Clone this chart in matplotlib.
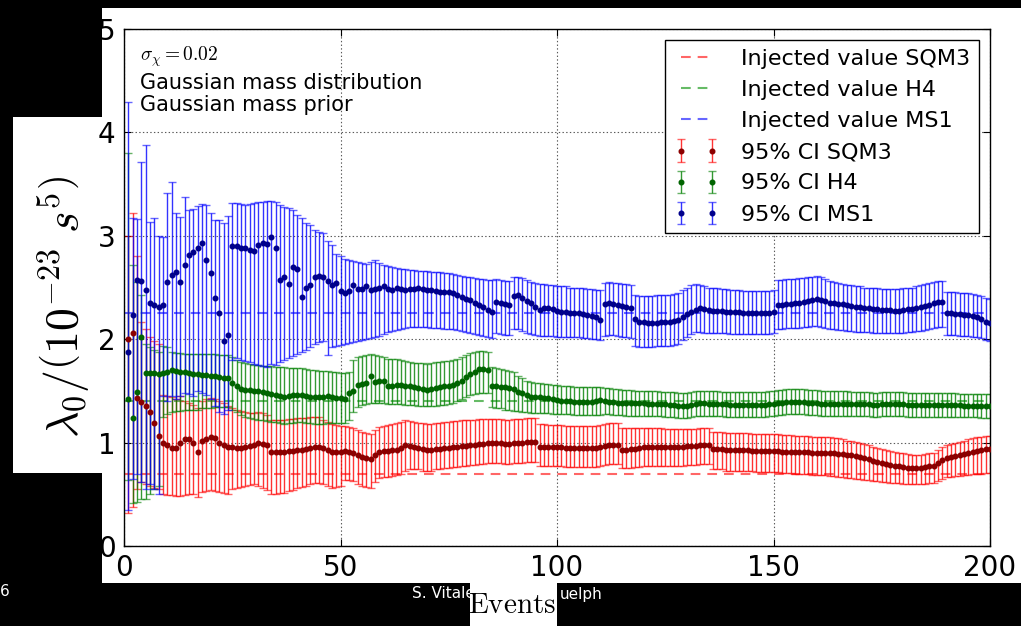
import numpy as np
import matplotlib
matplotlib.use("Agg")
import matplotlib.pyplot as plt
from matplotlib.patches import Rectangle

plt.rcParams['mathtext.fontset'] = 'cm'
plt.rcParams['lines.scale_dashes'] = False

# ---------------- data ----------------
injected_sqm3 = 0.70
injected_h4 = 1.40
injected_ms1 = 2.25

ms1_mean = [
    1.88, 2.23, 2.57, 2.56, 2.48, 2.35, 2.33, 2.31, 2.33, 2.55,
    2.62, 2.65, 2.55, 2.72, 2.81, 2.84, 2.88, 2.93, 2.77, 2.64,
    2.40, 2.25, 1.98, 2.04, 2.90, 2.90, 2.88, 2.88, 2.86, 2.85,
    2.91, 2.93, 2.92, 2.99, 2.88, 2.57, 2.60, 2.53, 2.70, 2.68,
    2.41, 2.50, 2.52, 2.60, 2.61, 2.60, 2.56, 2.52, 2.54, 2.47,
    2.45, 2.47, 2.52, 2.49, 2.49, 2.51, 2.48, 2.49, 2.50, 2.51,
    2.49, 2.48, 2.50, 2.49, 2.48, 2.49, 2.49, 2.50, 2.49, 2.48,
    2.48, 2.47, 2.46, 2.46, 2.46, 2.45, 2.43, 2.41, 2.39, 2.38,
    2.35, 2.33, 2.31, 2.28, 2.26, 2.36, 2.35, 2.34, 2.33, 2.42,
    2.43, 2.40, 2.37, 2.35, 2.31, 2.28, 2.30, 2.30, 2.29, 2.27,
    2.26, 2.26, 2.25, 2.25, 2.25, 2.24, 2.23, 2.22, 2.21, 2.19,
    2.34, 2.35, 2.34, 2.33, 2.32, 2.31, 2.30, 2.20, 2.17, 2.17,
    2.16, 2.16, 2.16, 2.17, 2.17, 2.17, 2.18, 2.19, 2.21, 2.24,
    2.26, 2.28, 2.30, 2.29, 2.28, 2.27, 2.27, 2.27, 2.26, 2.26,
    2.26, 2.26, 2.25, 2.25, 2.25, 2.25, 2.25, 2.25, 2.25, 2.26,
    2.33, 2.33, 2.34, 2.34, 2.35, 2.35, 2.36, 2.37, 2.38, 2.39,
    2.38, 2.37, 2.35, 2.35, 2.34, 2.34, 2.33, 2.32, 2.31, 2.31,
    2.30, 2.30, 2.29, 2.29, 2.28, 2.28, 2.28, 2.27, 2.27, 2.28,
    2.29, 2.29, 2.30, 2.31, 2.32, 2.33, 2.35, 2.36, 2.36, 2.25,
    2.25, 2.24, 2.24, 2.23, 2.23, 2.22, 2.21, 2.20, 2.17, 2.16,
]
ms1_upper = [
    4.29, 3.17, 3.16, 3.71, 3.88, 3.13, 3.17, 3.00, 2.99, 3.41,
    3.52, 3.22, 3.18, 3.38, 3.25, 3.26, 3.29, 3.31, 3.30, 3.22,
    3.15, 3.15, 3.12, 3.19, 3.32, 3.32, 3.31, 3.30, 3.31, 3.32,
    3.33, 3.33, 3.34, 3.34, 3.33, 3.30, 3.28, 3.27, 3.25, 3.20,
    3.17, 3.12, 3.10, 3.06, 3.04, 3.03, 2.95, 2.91, 2.82, 2.80,
    2.78, 2.77, 2.76, 2.75, 2.74, 2.73, 2.75, 2.77, 2.74, 2.72,
    2.71, 2.70, 2.69, 2.68, 2.68, 2.67, 2.67, 2.66, 2.66, 2.66,
    2.65, 2.65, 2.65, 2.64, 2.64, 2.63, 2.62, 2.61, 2.60, 2.60,
    2.59, 2.58, 2.58, 2.57, 2.57, 2.58, 2.57, 2.56, 2.56, 2.60,
    2.60, 2.59, 2.57, 2.55, 2.54, 2.53, 2.53, 2.52, 2.52, 2.51,
    2.51, 2.51, 2.50, 2.50, 2.50, 2.50, 2.49, 2.49, 2.48, 2.48,
    2.54, 2.55, 2.54, 2.54, 2.53, 2.53, 2.52, 2.43, 2.42, 2.42,
    2.42, 2.42, 2.43, 2.43, 2.43, 2.43, 2.44, 2.45, 2.48, 2.50,
    2.52, 2.53, 2.52, 2.51, 2.50, 2.50, 2.50, 2.49, 2.49, 2.48,
    2.48, 2.48, 2.47, 2.47, 2.47, 2.47, 2.47, 2.47, 2.47, 2.48,
    2.57, 2.57, 2.58, 2.58, 2.58, 2.59, 2.59, 2.60, 2.60, 2.61,
    2.60, 2.58, 2.56, 2.55, 2.54, 2.53, 2.52, 2.52, 2.51, 2.51,
    2.50, 2.50, 2.50, 2.50, 2.49, 2.49, 2.49, 2.49, 2.49, 2.50,
    2.50, 2.50, 2.51, 2.52, 2.53, 2.54, 2.55, 2.56, 2.56, 2.46,
    2.46, 2.46, 2.45, 2.45, 2.45, 2.44, 2.43, 2.42, 2.40, 2.39,
]
ms1_lower = [
    0.35, 0.65, 0.70, 0.62, 0.55, 0.60, 0.55, 0.50, 1.45, 1.40,
    1.45, 1.42, 1.45, 1.48, 1.47, 1.45, 1.50, 1.48, 1.46, 1.42,
    1.35, 1.30, 1.28, 1.32, 1.80, 1.82, 1.80, 1.79, 1.78, 1.76,
    1.75, 1.74, 1.73, 1.76, 1.75, 1.78, 1.80, 1.82, 1.84, 1.86,
    1.88, 1.90, 1.92, 1.95, 1.97, 1.98, 1.85, 1.92, 1.93, 1.94,
    1.95, 1.96, 1.97, 1.98, 1.99, 2.00, 2.01, 2.02, 2.03, 2.05,
    2.07, 2.08, 2.09, 2.10, 2.11, 2.12, 2.12, 2.12, 2.12, 2.12,
    2.11, 2.11, 2.11, 2.10, 2.10, 2.10, 2.09, 2.08, 2.07, 2.06,
    2.05, 2.04, 2.03, 2.02, 2.01, 2.06, 2.05, 2.04, 2.04, 2.10,
    2.10, 2.08, 2.06, 2.05, 2.04, 2.03, 2.03, 2.03, 2.03, 2.02,
    2.02, 2.02, 2.02, 2.02, 2.02, 2.01, 2.01, 2.00, 2.00, 1.99,
    2.03, 2.04, 2.04, 2.03, 2.02, 2.02, 2.01, 1.93, 1.92, 1.92,
    1.92, 1.92, 1.93, 1.93, 1.93, 1.93, 1.94, 1.95, 1.99, 2.02,
    2.05, 2.07, 2.07, 2.06, 2.06, 2.06, 2.06, 2.06, 2.06, 2.05,
    2.05, 2.05, 2.05, 2.05, 2.05, 2.05, 2.05, 2.05, 2.05, 2.06,
    2.10, 2.10, 2.11, 2.11, 2.11, 2.11, 2.12, 2.12, 2.13, 2.13,
    2.12, 2.11, 2.10, 2.10, 2.09, 2.09, 2.08, 2.08, 2.07, 2.07,
    2.07, 2.07, 2.06, 2.06, 2.06, 2.06, 2.06, 2.06, 2.06, 2.06,
    2.07, 2.07, 2.08, 2.08, 2.09, 2.10, 2.11, 2.12, 2.12, 2.04,
    2.04, 2.04, 2.03, 2.03, 2.03, 2.02, 2.02, 2.01, 1.99, 1.98,
]

h4_mean = [
    1.42, 1.24, 1.49, 2.02, 1.67, 1.67, 1.67, 1.66, 1.67, 1.68,
    1.70, 1.69, 1.68, 1.68, 1.67, 1.66, 1.66, 1.65, 1.65, 1.64,
    1.64, 1.63, 1.62, 1.62, 1.58, 1.55, 1.52, 1.51, 1.51, 1.50,
    1.50, 1.49, 1.48, 1.47, 1.46, 1.45, 1.44, 1.45, 1.46, 1.46,
    1.46, 1.45, 1.44, 1.44, 1.44, 1.44, 1.45, 1.44, 1.43, 1.43,
    1.42, 1.48, 1.50, 1.56, 1.57, 1.58, 1.64, 1.59, 1.60, 1.60,
    1.55, 1.55, 1.56, 1.56, 1.55, 1.55, 1.54, 1.53, 1.52, 1.51,
    1.52, 1.53, 1.54, 1.55, 1.55, 1.56, 1.58, 1.60, 1.63, 1.66,
    1.68, 1.71, 1.71, 1.70, 1.55, 1.55, 1.54, 1.54, 1.53, 1.52,
    1.49, 1.48, 1.46, 1.44, 1.44, 1.44, 1.43, 1.43, 1.42, 1.41,
    1.40, 1.40, 1.40, 1.39, 1.39, 1.39, 1.39, 1.39, 1.40, 1.41,
    1.40, 1.39, 1.39, 1.38, 1.38, 1.38, 1.38, 1.38, 1.38, 1.38,
    1.37, 1.37, 1.37, 1.37, 1.37, 1.36, 1.36, 1.35, 1.35, 1.35,
    1.36, 1.37, 1.38, 1.38, 1.37, 1.37, 1.37, 1.37, 1.37, 1.36,
    1.36, 1.36, 1.36, 1.36, 1.36, 1.36, 1.36, 1.36, 1.37, 1.37,
    1.38, 1.38, 1.39, 1.39, 1.39, 1.39, 1.39, 1.38, 1.38, 1.38,
    1.37, 1.37, 1.37, 1.37, 1.37, 1.37, 1.37, 1.37, 1.37, 1.37,
    1.37, 1.37, 1.36, 1.36, 1.37, 1.37, 1.37, 1.37, 1.37, 1.37,
    1.36, 1.36, 1.36, 1.36, 1.36, 1.36, 1.36, 1.36, 1.36, 1.36,
    1.36, 1.36, 1.36, 1.35, 1.35, 1.35, 1.35, 1.35, 1.35, 1.35,
]
h4_upper = [
    3.80, 2.72, 2.55, 2.43, 1.95, 1.92, 1.90, 1.88, 1.93, 1.92,
    1.88, 1.87, 1.87, 1.86, 1.86, 1.86, 1.86, 1.86, 1.86, 1.86,
    1.86, 1.85, 1.85, 1.85, 1.83, 1.80, 1.78, 1.77, 1.76, 1.75,
    1.75, 1.74, 1.74, 1.74, 1.73, 1.73, 1.73, 1.72, 1.72, 1.72,
    1.72, 1.71, 1.70, 1.70, 1.69, 1.69, 1.69, 1.68, 1.68, 1.67,
    1.67, 1.68, 1.80, 1.83, 1.84, 1.85, 1.86, 1.85, 1.84, 1.83,
    1.81, 1.81, 1.81, 1.80, 1.79, 1.78, 1.77, 1.77, 1.77, 1.76,
    1.77, 1.78, 1.78, 1.79, 1.79, 1.80, 1.81, 1.83, 1.85, 1.87,
    1.88, 1.89, 1.89, 1.88, 1.73, 1.72, 1.71, 1.70, 1.69, 1.68,
    1.64, 1.62, 1.60, 1.59, 1.58, 1.58, 1.57, 1.57, 1.56, 1.56,
    1.55, 1.55, 1.55, 1.54, 1.54, 1.54, 1.54, 1.54, 1.54, 1.54,
    1.53, 1.53, 1.52, 1.52, 1.51, 1.51, 1.51, 1.50, 1.50, 1.50,
    1.50, 1.50, 1.50, 1.49, 1.49, 1.49, 1.49, 1.48, 1.48, 1.48,
    1.49, 1.50, 1.50, 1.50, 1.50, 1.50, 1.50, 1.49, 1.49, 1.49,
    1.49, 1.49, 1.49, 1.49, 1.49, 1.49, 1.49, 1.49, 1.50, 1.50,
    1.51, 1.51, 1.52, 1.52, 1.52, 1.52, 1.52, 1.51, 1.51, 1.51,
    1.50, 1.50, 1.50, 1.50, 1.50, 1.50, 1.50, 1.49, 1.49, 1.49,
    1.49, 1.49, 1.48, 1.48, 1.49, 1.49, 1.49, 1.49, 1.49, 1.49,
    1.48, 1.48, 1.48, 1.48, 1.48, 1.48, 1.48, 1.48, 1.48, 1.48,
    1.48, 1.48, 1.47, 1.47, 1.47, 1.47, 1.47, 1.47, 1.47, 1.47,
]
h4_lower = [
    0.64, 0.42, 0.43, 0.45, 0.45, 0.50, 0.55, 0.58, 1.25, 1.28,
    1.30, 1.31, 1.31, 1.32, 1.32, 1.32, 1.32, 1.33, 1.33, 1.33,
    1.34, 1.34, 1.34, 1.34, 1.32, 1.30, 1.27, 1.25, 1.24, 1.23,
    1.22, 1.22, 1.21, 1.20, 1.20, 1.19, 1.18, 1.19, 1.19, 1.20,
    1.20, 1.19, 1.19, 1.18, 1.18, 1.18, 1.19, 1.19, 1.19, 1.19,
    1.19, 1.22, 1.30, 1.34, 1.36, 1.37, 1.38, 1.38, 1.38, 1.38,
    1.37, 1.37, 1.37, 1.37, 1.36, 1.36, 1.36, 1.35, 1.35, 1.35,
    1.35, 1.35, 1.36, 1.36, 1.37, 1.38, 1.40, 1.42, 1.44, 1.46,
    1.47, 1.48, 1.48, 1.48, 1.34, 1.33, 1.33, 1.32, 1.32, 1.31,
    1.31, 1.30, 1.30, 1.29, 1.29, 1.29, 1.29, 1.29, 1.28, 1.28,
    1.28, 1.28, 1.28, 1.27, 1.27, 1.27, 1.27, 1.27, 1.27, 1.27,
    1.28, 1.28, 1.27, 1.27, 1.27, 1.26, 1.26, 1.26, 1.26, 1.26,
    1.26, 1.26, 1.26, 1.26, 1.25, 1.25, 1.25, 1.24, 1.24, 1.24,
    1.25, 1.26, 1.26, 1.26, 1.26, 1.26, 1.26, 1.26, 1.25, 1.25,
    1.25, 1.25, 1.25, 1.25, 1.25, 1.25, 1.25, 1.25, 1.26, 1.26,
    1.27, 1.27, 1.28, 1.28, 1.28, 1.28, 1.28, 1.27, 1.27, 1.27,
    1.26, 1.26, 1.26, 1.26, 1.26, 1.26, 1.26, 1.26, 1.26, 1.26,
    1.26, 1.26, 1.25, 1.25, 1.26, 1.26, 1.26, 1.26, 1.26, 1.26,
    1.25, 1.25, 1.25, 1.25, 1.25, 1.25, 1.25, 1.25, 1.25, 1.25,
    1.25, 1.25, 1.25, 1.25, 1.25, 1.25, 1.25, 1.24, 1.24, 1.24,
]

sqm3_mean = [
    2.00, 2.06, 1.43, 1.39, 1.35, 1.30, 1.19, 1.06, 1.00, 0.98,
    0.95, 0.95, 1.00, 1.03, 1.03, 1.00, 0.91, 1.02, 1.03, 1.05,
    1.04, 1.00, 0.98, 0.96, 0.96, 0.95, 0.95, 0.96, 0.97, 0.98,
    1.00, 0.99, 0.98, 0.91, 0.91, 0.91, 0.91, 0.92, 0.92, 0.93,
    0.93, 0.94, 0.95, 0.96, 0.96, 0.95, 0.93, 0.91, 0.91, 0.91,
    0.92, 0.91, 0.90, 0.88, 0.86, 0.85, 0.84, 0.88, 0.91, 0.92,
    0.92, 0.93, 0.93, 0.95, 0.98, 0.97, 0.96, 0.95, 0.94, 0.93,
    0.93, 0.94, 0.94, 0.95, 0.95, 0.96, 0.96, 0.97, 0.97, 0.98,
    0.98, 0.99, 0.99, 1.00, 1.00, 1.00, 1.00, 0.99, 0.99, 1.00,
    1.00, 1.00, 1.01, 1.01, 1.01, 0.96, 0.96, 0.96, 0.96, 0.96,
    0.96, 0.95, 0.95, 0.95, 0.95, 0.95, 0.95, 0.95, 0.95, 0.96,
    0.97, 0.98, 0.98, 0.98, 0.93, 0.93, 0.94, 0.94, 0.95, 0.96,
    0.96, 0.96, 0.96, 0.96, 0.96, 0.96, 0.96, 0.96, 0.96, 0.97,
    0.97, 0.97, 0.98, 0.98, 0.98, 0.94, 0.94, 0.94, 0.93, 0.93,
    0.93, 0.93, 0.93, 0.93, 0.92, 0.92, 0.92, 0.92, 0.92, 0.92,
    0.92, 0.91, 0.91, 0.91, 0.91, 0.91, 0.91, 0.91, 0.90, 0.90,
    0.90, 0.90, 0.90, 0.90, 0.89, 0.89, 0.88, 0.88, 0.87, 0.86,
    0.85, 0.84, 0.82, 0.81, 0.80, 0.79, 0.78, 0.77, 0.77, 0.76,
    0.75, 0.75, 0.75, 0.75, 0.76, 0.77, 0.77, 0.80, 0.83, 0.85,
    0.86, 0.87, 0.88, 0.89, 0.90, 0.91, 0.92, 0.93, 0.94, 0.94,
]
sqm3_upper = [
    3.00, 3.22, 2.80, 2.17, 2.10, 2.02, 1.98, 1.95, 1.46, 1.45,
    1.44, 1.42, 1.45, 1.40, 1.38, 1.36, 1.33, 1.40, 1.42, 1.43,
    1.42, 1.40, 1.38, 1.35, 1.33, 1.32, 1.31, 1.30, 1.29, 1.29,
    1.30, 1.29, 1.27, 1.22, 1.22, 1.22, 1.22, 1.23, 1.23, 1.24,
    1.24, 1.24, 1.25, 1.25, 1.25, 1.22, 1.20, 1.18, 1.17, 1.16,
    1.16, 1.15, 1.14, 1.12, 1.10, 1.09, 1.08, 1.12, 1.15, 1.16,
    1.17, 1.18, 1.19, 1.20, 1.22, 1.21, 1.20, 1.19, 1.19, 1.18,
    1.18, 1.19, 1.19, 1.20, 1.20, 1.21, 1.21, 1.22, 1.22, 1.22,
    1.22, 1.23, 1.23, 1.23, 1.23, 1.23, 1.23, 1.22, 1.22, 1.23,
    1.23, 1.23, 1.24, 1.24, 1.24, 1.18, 1.18, 1.17, 1.17, 1.17,
    1.17, 1.16, 1.16, 1.16, 1.16, 1.16, 1.16, 1.16, 1.16, 1.17,
    1.18, 1.19, 1.19, 1.19, 1.14, 1.14, 1.14, 1.14, 1.14, 1.14,
    1.14, 1.14, 1.14, 1.14, 1.13, 1.13, 1.13, 1.13, 1.13, 1.13,
    1.13, 1.13, 1.14, 1.14, 1.14, 1.10, 1.10, 1.10, 1.09, 1.09,
    1.09, 1.09, 1.09, 1.09, 1.08, 1.08, 1.08, 1.08, 1.08, 1.08,
    1.08, 1.07, 1.07, 1.07, 1.06, 1.06, 1.06, 1.06, 1.05, 1.05,
    1.05, 1.05, 1.05, 1.04, 1.04, 1.03, 1.02, 1.02, 1.01, 1.00,
    0.99, 0.98, 0.96, 0.95, 0.94, 0.93, 0.92, 0.91, 0.90, 0.90,
    0.89, 0.88, 0.88, 0.88, 0.89, 0.90, 0.90, 0.93, 0.96, 0.98,
    0.99, 1.00, 1.01, 1.02, 1.03, 1.04, 1.05, 1.05, 1.06, 1.06,
]
sqm3_lower = [
    0.32, 0.38, 0.55, 0.62, 0.60, 0.58, 0.56, 0.55, 0.50, 0.49,
    0.49, 0.48, 0.48, 0.49, 0.50, 0.50, 0.47, 0.52, 0.53, 0.54,
    0.53, 0.52, 0.51, 0.50, 0.55, 0.56, 0.57, 0.58, 0.59, 0.60,
    0.58, 0.56, 0.54, 0.50, 0.50, 0.51, 0.51, 0.53, 0.54, 0.56,
    0.57, 0.58, 0.60, 0.61, 0.61, 0.60, 0.58, 0.56, 0.57, 0.58,
    0.64, 0.64, 0.63, 0.60, 0.58, 0.57, 0.56, 0.62, 0.66, 0.67,
    0.67, 0.68, 0.69, 0.70, 0.73, 0.74, 0.74, 0.74, 0.73, 0.73,
    0.73, 0.74, 0.74, 0.75, 0.75, 0.76, 0.76, 0.77, 0.77, 0.78,
    0.78, 0.79, 0.79, 0.80, 0.80, 0.80, 0.80, 0.79, 0.79, 0.80,
    0.80, 0.80, 0.81, 0.81, 0.81, 0.77, 0.77, 0.77, 0.77, 0.77,
    0.77, 0.76, 0.76, 0.76, 0.76, 0.76, 0.76, 0.76, 0.76, 0.77,
    0.78, 0.79, 0.79, 0.79, 0.75, 0.75, 0.75, 0.76, 0.76, 0.77,
    0.77, 0.77, 0.77, 0.77, 0.77, 0.77, 0.77, 0.77, 0.77, 0.78,
    0.78, 0.78, 0.79, 0.79, 0.79, 0.74, 0.74, 0.74, 0.73, 0.73,
    0.73, 0.73, 0.73, 0.73, 0.73, 0.72, 0.72, 0.72, 0.72, 0.72,
    0.72, 0.71, 0.71, 0.71, 0.70, 0.70, 0.70, 0.70, 0.69, 0.69,
    0.69, 0.69, 0.68, 0.68, 0.67, 0.67, 0.66, 0.66, 0.65, 0.65,
    0.64, 0.64, 0.63, 0.63, 0.62, 0.62, 0.61, 0.61, 0.61, 0.60,
    0.60, 0.60, 0.60, 0.60, 0.60, 0.61, 0.61, 0.63, 0.65, 0.67,
    0.67, 0.68, 0.68, 0.69, 0.69, 0.70, 0.70, 0.70, 0.71, 0.71,
]

x_ticks = [0, 50, 100, 150, 200]
y_ticks = [0, 1, 2, 3, 4, 5]

# ---------------- figure ----------------
W, H = 1021, 626
fig = plt.figure(figsize=(W / 100, H / 100), dpi=100, facecolor='black')

def frect(x0, y0, x1, y1, z):
    # pixel box (top-left origin) -> figure rectangle
    fig.add_artist(Rectangle((x0 / W, 1 - y1 / H), (x1 - x0) / W, (y1 - y0) / H,
                             transform=fig.transFigure, facecolor='white',
                             edgecolor='none', zorder=z))

frect(102, 8, W, 583, -2)
frect(13, 117, 102, 473, -2)

ax = fig.add_axes([124 / W, 1 - 546 / H, (990 - 124) / W, (546 - 29) / H])
ax.set_facecolor('white')

n = len(sqm3_mean)
events = np.arange(1, n + 1)

def draw(mean, lo, hi, ecol, mcol, label):
    mean = np.asarray(mean)
    err = [mean - np.asarray(lo), np.asarray(hi) - mean]
    eb = ax.errorbar(events, mean, yerr=err, fmt='o', color=mcol, ms=3.3,
                     mec=mcol, ecolor=ecol, elinewidth=1.0, capsize=3,
                     capthick=1.0, label=label, zorder=2)
    for lc in eb.lines[2]:
        lc.set_alpha(0.8)
    for cl in eb.lines[1]:
        cl.set_alpha(0.6)
    eb.lines[0].set_zorder(5)
    return eb

l1 = ax.axhline(injected_sqm3, color='#ff6666', ls=(0, (7, 5)), lw=1.5, zorder=1,
                label='Injected value SQM3')
l2 = ax.axhline(injected_h4, color='#66bb66', ls=(0, (7, 5)), lw=1.5, zorder=1,
                label='Injected value H4')
l3 = ax.axhline(injected_ms1, color='#6666ff', ls=(0, (7, 5)), lw=1.5, zorder=1,
                label='Injected value MS1')

e1 = draw(sqm3_mean, sqm3_lower, sqm3_upper, 'red', '#8b0000', '95% CI SQM3')
e2 = draw(h4_mean, h4_lower, h4_upper, 'green', '#006400', '95% CI H4')
e3 = draw(ms1_mean, ms1_lower, ms1_upper, 'blue', '#00008b', '95% CI MS1')

ax.set_xlim(0, 200)
ax.set_ylim(0, 5)
ax.set_xticks(x_ticks)
ax.set_yticks(y_ticks)
ax.tick_params(direction='in', length=5, width=0.8, top=True, right=True,
               labelsize=20, pad=6)
ax.grid(True, linestyle=':', color='0.35', linewidth=0.8)
for s in ax.spines.values():
    s.set_linewidth(1.0)
    s.set_color('black')

leg = ax.legend(handles=[l1, l2, l3, e1, e2, e3], loc='upper right', fontsize=16,
                numpoints=2, handlelength=2.0, handletextpad=1.0, borderpad=0.4,
                labelspacing=0.5, fancybox=False, framealpha=1.0,
                edgecolor='black', borderaxespad=0.5)
leg.get_frame().set_linewidth(1.0)

ax.text(0.0185, 0.946, r'$\sigma_\chi=0.02$', transform=ax.transAxes,
        fontsize=14, va='center', ha='left')
ax.text(0.0185, 0.8956, 'Gaussian mass distribution', transform=ax.transAxes,
        fontsize=15, va='center', ha='left')
ax.text(0.0185, 0.853, 'Gaussian mass prior', transform=ax.transAxes,
        fontsize=15, va='center', ha='left')

# y label in its own white panel
fig.text(65 / W, 1 - 307 / H, r'$\lambda_0/\left(10^{-23}\ s^5\right)$',
         rotation=90, ha='center', va='center', fontsize=33, color='black')

# footer (slide) text and x label box
fig.text(412 / W, 1 - 594 / H, 'S. Vitale', color='white', fontsize=11,
         ha='left', va='center', zorder=1)
fig.text(560 / W, 1 - 594 / H, 'uelph', color='white', fontsize=11,
         ha='left', va='center', zorder=1)
fig.text(0 / W, 1 - 592 / H, '6', color='white', fontsize=11,
         ha='left', va='center', zorder=1)
frect(470, 583, 557, H + 2, 2)
fig.text(512 / W, 1 - 605 / H, r'$\mathrm{Events}$', ha='center', va='center',
         fontsize=21, color='black', zorder=3)

fig.savefig('out.png', dpi=100, facecolor='black')
